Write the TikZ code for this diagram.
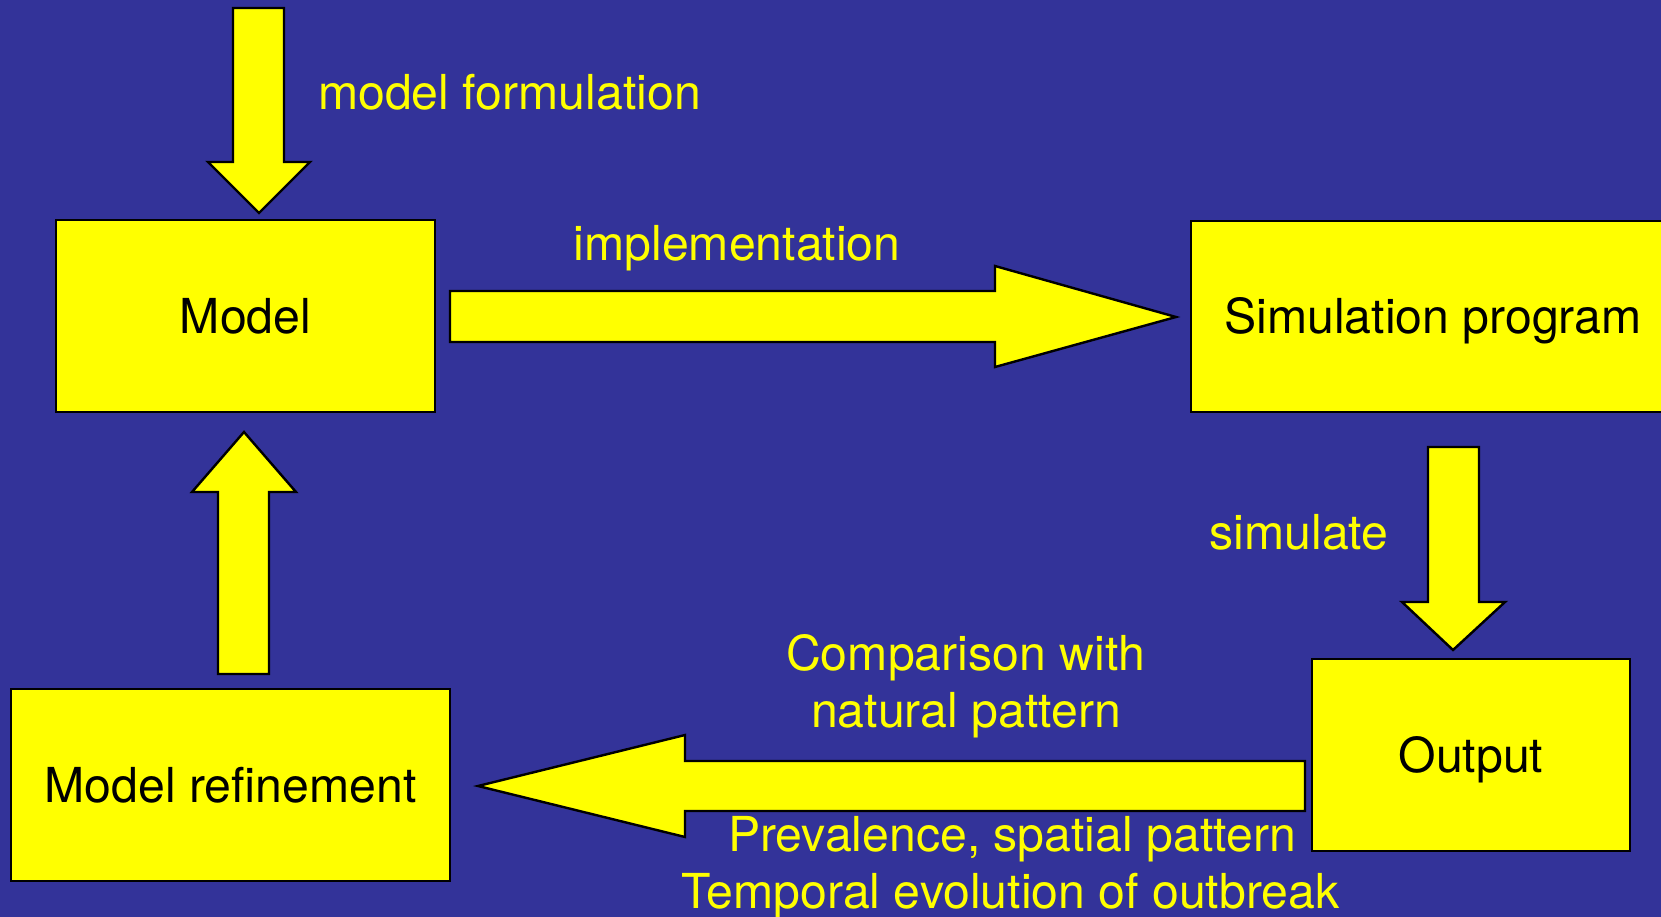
\documentclass[tikz,border=0pt]{standalone}
\usepackage{fontspec}
\setmainfont{TeX Gyre Heros}
\definecolor{bgblue}{RGB}{51,51,153}
\definecolor{ylw}{RGB}{255,255,0}
\tikzset{
  bigfont/.style={font=\fontsize{48.2pt}{58pt}\selectfont},
  box/.style={draw=black, fill=ylw, line width=2.6pt, inner sep=0pt,
    text=black, text height=34.5pt, text depth=0pt, bigfont},
  lbl/.style={text=ylw, inner sep=0pt, anchor=base, bigfont},
  barrow/.style={fill=ylw, draw=black, line width=2.4pt, line join=miter}
}
\begin{document}
\begin{tikzpicture}[x=1pt,y=-1pt]
\useasboundingbox (0,0) rectangle (1661,917);
\clip (0,0) rectangle (1661,917);
\fill[bgblue] (0,0) rectangle (1661,917);

% boxes
\node[box, minimum width=379pt, minimum height=192pt] (model) at (245.5,316) {Model};
\node[box, minimum width=484pt, minimum height=191pt] (sim) at (1433,316.5) {Simulation program};
\node[box, minimum width=318pt, minimum height=192pt] (out) at (1471,755) {Output};
\node[box, minimum width=439pt, minimum height=192pt] (refine) at (230.5,785) {Model refinement};

% block arrows
% model formulation (down into Model)
\draw[barrow] (233,8) -- (284,8) -- (284,162) -- (310,162) -- (259,213) -- (208,162) -- (233,162) -- cycle;
% implementation (Model -> Simulation program)
\draw[barrow] (450,291) -- (995,291) -- (995,266) -- (1176,317) -- (995,367) -- (995,342) -- (450,342) -- cycle;
% simulate (Simulation program -> Output)
\draw[barrow] (1428,447) -- (1479,447) -- (1479,602) -- (1505,602) -- (1453,650) -- (1402,602) -- (1428,602) -- cycle;
% comparison (Output -> Model refinement)
\draw[barrow] (1305,761) -- (685,761) -- (685,735) -- (478,786) -- (685,837) -- (685,811) -- (1305,811) -- cycle;
% refinement (Model refinement -> Model)
\draw[barrow] (218,674) -- (218,492) -- (192,492) -- (244,432) -- (296,492) -- (269,492) -- (269,674) -- cycle;

% labels
\node[lbl, anchor=base west] (lform) at (318,110) {model formulation};
\node[lbl] (limpl) at (737,261) {implementation};
\node[lbl] (lsim) at (1299,549) {simulate};
\node[lbl] (lcomp1) at (965.5,670) {Comparison with};
\node[lbl] (lcomp2) at (966,727) {natural pattern};
\node[lbl] (lprev1) at (1012,851) {Prevalence, spatial pattern};
\node[lbl] (lprev2) at (1010.5,908) {Temporal evolution of outbreak};
\end{tikzpicture}
\end{document}
